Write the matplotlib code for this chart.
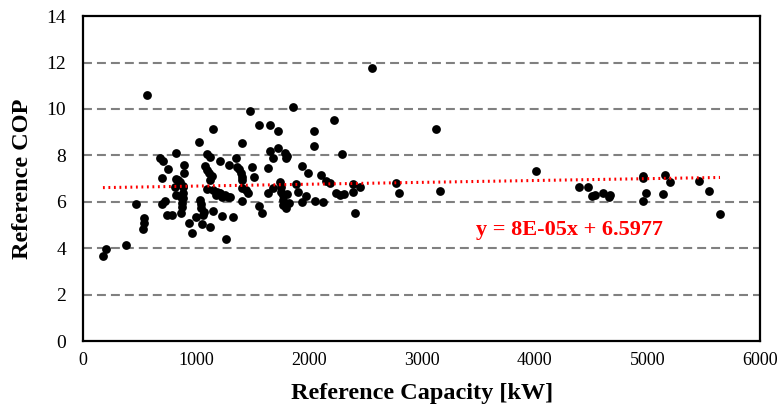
import matplotlib.pyplot as plt
import numpy as np

plt.rcParams['font.family'] = ['Liberation Serif', 'DejaVu Serif']

# reference capacity [kW] and reference COP
cap_kw = [
    569, 177, 206, 383, 472, 537, 537, 530, 679, 708, 755, 702, 823, 897, 897,
    823, 840, 858, 885, 820, 885, 885, 696, 726, 743, 785, 873, 873, 867, 938,
    962, 1029, 1097, 1121, 1080, 1097, 1115, 1121, 1097, 1038, 1050, 1050, 1068,
    1003, 1056, 1121, 1150, 811, 888, 864, 1065, 1212, 1183, 1301, 1142,
    1484, 1861, 1407, 1558, 1661, 1732, 2227, 2047, 2047, 1218, 1354, 1295,
    1366, 1384, 1401, 1413, 1413, 1496, 1519, 1655, 1728, 1679, 1791, 1803, 1796,
    1637, 1938, 1997, 2109, 2156, 2186, 2239, 1153, 1177, 1201, 1236, 1259, 1283,
    1407, 1448, 1466, 1407, 1555, 1584, 1153, 1236, 1330, 1271, 1643, 1684,
    1743, 1758, 1758, 1773, 1773, 1773, 1796, 1808, 1826, 1890, 1908, 1944, 1973,
    2056, 2127,
    2563, 3130, 2298, 2274, 2316, 2392, 2392, 2458, 2410, 2770, 2799, 3165,
    4012, 4393, 4473, 4510, 4533, 4604, 4669, 4664, 4958, 4958, 4958, 4988,
    5142, 5159, 5200, 5454, 5543, 5643,
]
cop = [
    10.58, 3.68, 3.95, 4.15, 5.89, 5.29, 5.10, 4.81, 7.90, 7.76, 7.40, 7.01, 8.10,
    7.60, 7.22, 6.99, 6.94, 6.86, 6.68, 6.28, 6.36, 6.15, 5.90, 6.04, 5.43, 5.43,
    5.96, 5.76, 5.53, 5.07, 4.64, 8.57, 8.06, 7.91, 7.54, 7.37, 7.22, 6.94, 6.54,
    6.07, 5.90, 5.72, 5.57, 5.36, 5.04, 4.90, 9.13, 6.64, 6.64, 6.22, 5.43,
    6.36, 6.43, 6.19, 7.11,
    9.92, 10.07, 8.55, 9.29, 9.33, 9.03, 9.52, 9.07, 8.40, 7.76, 7.88, 7.58,
    7.48, 7.40, 7.22, 7.05, 6.94, 7.48, 7.08, 8.20, 8.30, 7.87, 8.11, 7.97, 7.87,
    7.44, 7.54, 7.25, 7.15, 6.89, 6.79, 6.36, 6.51, 6.29, 6.36, 6.22, 6.29, 6.19,
    6.58, 6.51, 6.36, 6.04, 5.82, 5.53, 5.61, 5.39, 5.36, 4.38, 6.36, 6.58,
    6.86, 6.65, 6.43, 6.29, 6.07, 5.86, 5.72, 6.33, 5.96, 6.76, 6.43, 6.00, 6.25,
    6.04, 6.00,
    11.75, 9.15, 8.08, 6.29, 6.33, 6.76, 6.43, 6.65, 5.54, 6.82, 6.39, 6.48,
    7.34, 6.62, 6.62, 6.25, 6.30, 6.36, 6.29, 6.22, 7.12, 7.01, 6.02, 6.39,
    6.33, 7.15, 6.85, 6.91, 6.48, 5.47,
]

# linear trendline as printed on the chart
slope = 8e-05
intercept = 6.5977
eq_label = 'y = 8E-05x + 6.5977'

x_ticks = [0, 1000, 2000, 3000, 4000, 5000, 6000]
y_ticks = [0, 2, 4, 6, 8, 10, 12, 14]

fig, ax = plt.subplots(figsize=(7.79, 4.12), dpi=100)
fig.subplots_adjust(left=0.1065, right=0.976, top=0.961, bottom=0.172)

for yv in y_ticks[1:-1]:
    ax.axhline(yv, color='#808080', lw=1.5, dashes=(4.3, 2.4), zorder=1)

ax.scatter(cap_kw, cop, s=40, color='black', zorder=3, linewidths=0)

xs = np.array([min(cap_kw), max(cap_kw)])
ax.plot(xs, slope * xs + intercept, color='red', lw=2.2, dashes=(0.6, 1.2), zorder=4)

ax.text(3480, 4.78, eq_label, color='red', fontsize=16, fontweight='bold', va='center', ha='left')

ax.set_xlim(0, 6000)
ax.set_ylim(0, 14)
ax.set_xticks(x_ticks)
ax.set_yticks(y_ticks)
ax.tick_params(length=0)
ax.tick_params(axis='y', pad=12, labelsize=14)
ax.tick_params(axis='x', pad=8, labelsize=13)
for sp in ax.spines.values():
    sp.set_linewidth(1.6)
    sp.set_color('black')

ax.set_xlabel('Reference Capacity [kW]', fontsize=17.5, fontweight='bold', labelpad=10)
ax.set_ylabel('Reference COP', fontsize=17.5, fontweight='bold', labelpad=10)

fig.savefig('out.png', dpi=100)
